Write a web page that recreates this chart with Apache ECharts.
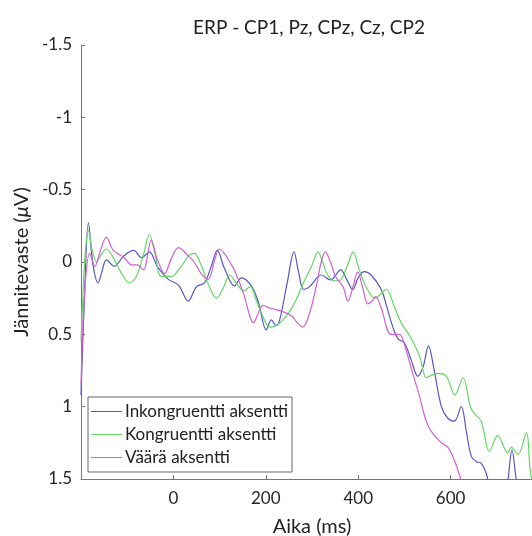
<!DOCTYPE html>
<html>
<head>
<meta charset="utf-8">
<script src="https://cdn.jsdelivr.net/npm/echarts@6/dist/echarts.min.js"></script>
<style>
  html, body { margin: 0; padding: 0; background: #fff; }
  #main { width: 532px; height: 536px; }
</style>
</head>
<body>
<div id="main"></div>
<script>
// ERP averages (time in ms, amplitude in µV)
const inkTime = [-200, -192, -184, -174, -163, -155, -145, -128, -108, -86, -69, -52, -35, -11, 11, 32, 50, 67, 82, 95, 110, 132, 147, 169, 184, 201, 212, 222, 230, 246, 261, 271, 282, 295, 320, 340, 362, 375, 388, 400, 413, 428, 450, 461, 475, 486, 500, 515, 529, 541, 552, 564, 580, 594, 608, 623, 634, 645, 656, 666, 677, 690, 705, 720, 733, 742, 755];
const inkVal = [0.92, 0.2, -0.27, 0.02, 0.145, 0.07, -0.015, 0.03, -0.04, -0.08, -0.03, -0.07, 0.03, 0.12, 0.16, 0.27, 0.17, 0.145, 0.03, -0.08, 0.04, 0.166, 0.11, 0.166, 0.28, 0.47, 0.40, 0.44, 0.40, 0.15, -0.07, 0.07, 0.19, 0.17, 0.09, 0.124, 0.055, 0.12, 0.19, 0.11, 0.067, 0.09, 0.19, 0.30, 0.45, 0.53, 0.56, 0.68, 0.79, 0.72, 0.58, 0.74, 1.0, 1.08, 1.1, 1.0, 1.17, 1.345, 1.38, 1.39, 1.46, 1.62, 1.7, 1.6, 1.30, 1.5, 1.7];

const konTime = [-200, -192, -184, -175, -166, -155, -145, -130, -112, -95, -80, -65, -52, -40, -26, -5, 17, 35, 45, 60, 75, 93, 108, 122, 137, 152, 166, 180, 194, 208, 222, 237, 252, 266, 282, 299, 313, 323, 334, 349, 363, 377, 389, 400, 410, 420, 436, 461, 477, 493, 515, 533, 548, 560, 573, 591, 609, 627, 645, 666, 684, 702, 724, 731, 746, 764, 774, 790];
const konVal = [0.55, 0.0, -0.22, -0.07, 0.0, -0.06, -0.09, -0.03, 0.08, 0.145, 0.10, -0.05, -0.19, -0.06, 0.10, 0.10, 0.03, -0.05, -0.06, 0.02, 0.15, 0.25, 0.18, 0.09, 0.15, 0.2, 0.17, 0.27, 0.38, 0.45, 0.44, 0.40, 0.34, 0.26, 0.14, 0.03, -0.07, 0.0, 0.09, 0.13, 0.12, 0.02, -0.07, 0.03, 0.12, 0.19, 0.25, 0.19, 0.30, 0.42, 0.53, 0.654, 0.80, 0.78, 0.77, 0.79, 0.92, 0.80, 1.02, 1.10, 1.31, 1.20, 1.32, 1.28, 1.33, 1.18, 1.48, 1.6];

const vaaTime = [-200, -192, -181, -170, -158, -145, -130, -106, -91, -78, -65, -48, -35, -19, -5, 11, 30, 45, 60, 75, 90, 99, 110, 122, 132, 151, 166, 173, 183, 194, 210, 234, 255, 268, 280, 295, 309, 320, 329, 340, 351, 367, 378, 388, 399, 410, 421, 430, 438, 450, 471, 489, 500, 518, 532, 547, 560, 580, 594, 608, 622, 635];
const vaaVal = [0.85, 0.2, -0.06, 0.03, -0.08, -0.17, -0.08, -0.03, 0.02, 0.02, 0.055, -0.15, -0.02, 0.08, -0.02, -0.10, -0.05, 0.0, 0.08, 0.12, -0.02, -0.09, -0.06, 0.0, 0.055, 0.21, 0.38, 0.42, 0.36, 0.30, 0.32, 0.34, 0.37, 0.42, 0.45, 0.35, 0.17, 0.0, -0.07, 0.0, 0.1, 0.17, 0.27, 0.18, 0.07, 0.18, 0.29, 0.27, 0.24, 0.32, 0.50, 0.50, 0.57, 0.77, 0.92, 1.10, 1.18, 1.25, 1.28, 1.37, 1.5, 1.65];

const seriesNames = ['Inkongruentti aksentti', 'Kongruentti aksentti', 'Väärä aksentti'];
const seriesColors = ['#5656c8', '#62d862', '#d45ed4'];

const zip = (ts, vs) => ts.map((t, i) => [t, vs[i]]);

const FONT = 'Lato';
const myChart = echarts.init(document.getElementById('main'));

const option = {
  animation: false,
  backgroundColor: '#fff',
  title: {
    text: 'ERP - CP1, Pz, CPz, Cz, CP2',
    left: 304,
    textAlign: 'center',
    top: 13,
    textStyle: { fontFamily: FONT, fontSize: 19, fontWeight: 'normal', color: '#222' },
  },
  grid: {
    left: 81,
    top: 45,
    width: 462,
    bottom: 57,
    outerBoundsMode: 'none',
  },
  legend: {
    orient: 'vertical',
    left: 88,
    top: 397,
    data: seriesNames,
    icon: 'path://M0,0 L31,0 L31,1 L0,1 Z',
    itemWidth: 31,
    itemHeight: 1,
    itemGap: 6,
    padding: [6, 4, 6, 3],
    borderColor: '#666',
    borderWidth: 1,
    backgroundColor: '#fff',
    textStyle: { fontFamily: FONT, fontSize: 17, lineHeight: 17, color: '#222', padding: [0, 0, 0, -2] },
  },
  xAxis: {
    type: 'value',
    min: -200,
    max: 800,
    interval: 200,
    name: 'Aika (ms)',
    nameLocation: 'middle',
    nameGap: 38,
    nameTextStyle: { fontFamily: FONT, fontSize: 20, color: '#222' },
    axisLine: { onZero: false, lineStyle: { color: '#777' } },
    axisTick: { inside: true, length: 4, lineStyle: { color: '#777' } },
    axisLabel: {
      fontFamily: FONT, fontSize: 17, color: '#262626', margin: 11,
      // the -200 and 800 ends fall on the frame / outside the picture
      formatter: (v) => (v === -200 || v === 800 ? '' : String(v)),
    },
    splitLine: { show: false },
  },
  yAxis: {
    type: 'value',
    inverse: true,
    min: -1.5,
    max: 1.5,
    interval: 0.5,
    name: 'Jännitevaste ({i|μ}V)',
    nameLocation: 'middle',
    nameGap: 46,
    nameTextStyle: {
      fontFamily: FONT, fontSize: 20, color: '#222',
      rich: { i: { fontFamily: FONT, fontSize: 20, fontStyle: 'italic', color: '#222' } },
    },
    axisLine: { show: true, onZero: false, lineStyle: { color: '#777' } },
    axisTick: { show: true, inside: true, length: 4, lineStyle: { color: '#777' } },
    axisLabel: { fontFamily: FONT, fontSize: 17, color: '#262626', margin: 9 },
    splitLine: { show: false },
  },
  series: [
    { data: zip(inkTime, inkVal) },
    { data: zip(konTime, konVal) },
    { data: zip(vaaTime, vaaVal) },
  ].map((s, i) => ({
    name: seriesNames[i],
    type: 'line',
    data: s.data,
    smooth: 0.35,
    symbol: 'none',
    clip: true,
    color: seriesColors[i],
    lineStyle: { width: 1.2, color: seriesColors[i] },
  })),
};

myChart.setOption(option);
</script>
</body>
</html>
